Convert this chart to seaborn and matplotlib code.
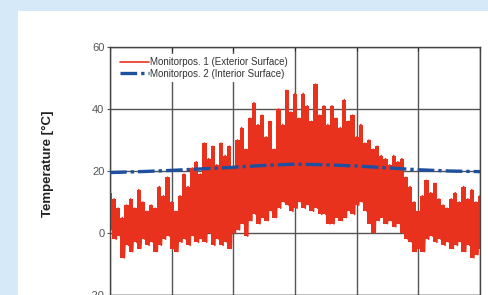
import seaborn as sns
import pandas as pd
import numpy as np
import matplotlib.pyplot as plt
from matplotlib.patches import Rectangle

# day of year, sampled every 4 days
days = list(range(0, 361, 4))
# exterior surface: daily upper / lower excursions (°C)
ext_hi = [13, 11, 8, 5, 9, 11, 8, 14, 10, 7, 9, 8, 15, 12, 18, 10, 7, 12, 19, 15,
          21, 23, 19, 29, 24, 28, 22, 29, 25, 28, 21, 30, 34, 27, 37, 42, 35, 38, 31, 36,
          27, 40, 35, 46, 39, 45, 37, 45, 41, 36, 48, 38, 41, 35, 41, 37, 34, 43, 36, 38,
          31, 35, 29, 30, 27, 28, 25, 24, 22, 25, 23, 24, 18, 15, 10, 7, 12, 17, 13, 16,
          11, 9, 8, 11, 13, 10, 15, 11, 14, 10, 12]
ext_lo = [1, -2, -1, -8, -4, -6, -3, -5, -2, -4, -3, -6, -4, -2, -1, -5, -6, -3, -2, -4,
          -1, -3, -2, -3, 0, -4, -2, -4, -3, -5, 0, 1, 3, -1, 4, 6, 3, 5, 4, 7,
          5, 8, 10, 9, 7, 8, 10, 8, 9, 7, 8, 6, 6, 3, 3, 5, 4, 5, 7, 6,
          9, 10, 7, 3, 0, 4, 5, 3, 4, 2, 3, 0, -2, -3, -6, -5, -6, -2, -1, -3,
          -2, -4, -3, -5, -4, -3, -6, -4, -8, -7, -5]

# interior surface, monthly
int_days = list(range(0, 361, 30))
int_temp = [19.5, 19.8, 20.2, 20.7, 21.2, 21.8, 22.2, 22.0, 21.6, 21.0, 20.4, 20.0, 19.8]

RED = "#e8321e"
BLUE = "#1f4f9f"

xs, ys = [], []
for d, h, l in zip(days, ext_hi, ext_lo):
    xs += [d, d + 2]
    ys += [h, l]
ext = pd.DataFrame({"Tag": xs, "Temp": ys})
inn = pd.DataFrame({"Tag": int_days, "Temp": int_temp})

sns.set_style("white")
plt.rcParams["font.family"] = ["Liberation Sans", "DejaVu Sans"]

fig = plt.figure(figsize=(4.89, 2.95), dpi=100)
fig.patch.set_facecolor("#d5e9f8")
fig.add_artist(Rectangle((18 / 489, 0), 1, 284 / 295, transform=fig.transFigure,
                         facecolor="white", edgecolor="none", zorder=0))
ax = fig.add_axes([110 / 489, 0, 370 / 489, 248 / 295])

# solid body of the daily swing, then the spiky trace on top
ax.fill_between(days, ext_lo, ext_hi, step="mid", color=RED, lw=0, zorder=2)
sns.lineplot(data=ext, x="Tag", y="Temp", sort=False, estimator=None, color=RED,
             lw=1.2, ax=ax, label="Monitorpos. 1 (Exterior Surface)", zorder=2)
sns.lineplot(data=inn, x="Tag", y="Temp", estimator=None, color=BLUE, lw=2.4,
             ls=(0, (5, 1.2, 1, 1.2)), ax=ax, label="Monitorpos. 2 (Interior Surface)",
             zorder=3)

ax.set_xlim(0, 360)
ax.set_ylim(-20, 60)
ax.set_xticks(range(0, 361, 60))
ax.set_yticks([-20, 0, 20, 40, 60])
ax.grid(True, color="#555555", lw=1.0)
ax.set_axisbelow(True)
for s in ax.spines.values():
    s.set_color("#444444")
    s.set_linewidth(1.0)
ax.tick_params(axis="y", labelsize=8, colors="#555555", length=2, pad=2,
               direction="out", left=True)
ax.tick_params(axis="x", labelbottom=False, top=True, direction="in", length=3)
ax.set_xlabel("")
ax.set_ylabel("Temperature [°C]", fontsize=9.5, fontweight="bold", color="#222222")
ax.yaxis.set_label_coords(-0.15, 0.53)

leg = ax.legend(loc="upper left", bbox_to_anchor=(0.005, 0.99), fontsize=7, frameon=True,
                framealpha=1, edgecolor="none", handlelength=3.0, labelspacing=0.15,
                borderpad=0.3, handletextpad=0.1)
leg.get_frame().set_facecolor("white")
for t in leg.get_texts():
    t.set_color("#333333")

fig.savefig("out.png", dpi=100)
